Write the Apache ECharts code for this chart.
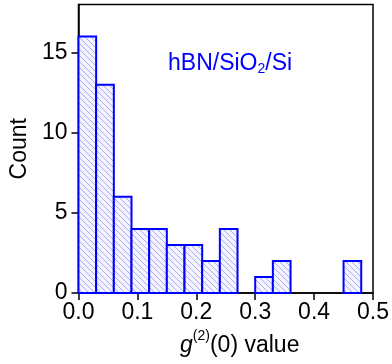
<!DOCTYPE html>
<html>
<head>
<meta charset="utf-8">
<script src="https://cdn.jsdelivr.net/npm/echarts@6/dist/echarts.min.js"></script>
<style>
html,body{margin:0;padding:0;background:#fff;}
#chart{width:392px;height:364px;}
</style>
</head>
<body>
<div id="chart"></div>
<script>
// histogram bins (g2 value) and counts
const binLo = [0.00, 0.03, 0.06, 0.09, 0.12, 0.15, 0.18, 0.21, 0.24, 0.27, 0.30, 0.33, 0.36, 0.39, 0.42, 0.45];
const binHi = [0.03, 0.06, 0.09, 0.12, 0.15, 0.18, 0.21, 0.24, 0.27, 0.30, 0.33, 0.36, 0.39, 0.42, 0.45, 0.48];
const counts = [16, 13, 6, 4, 4, 3, 3, 2, 4, 0, 1, 2, 0, 0, 0, 2];
const yTicks = [0, 5, 10, 15];

// hatch pattern
const pat = document.createElement('canvas');
pat.width = 6; pat.height = 6;
const pc = pat.getContext('2d');
pc.fillStyle = '#f4f4ff';
pc.fillRect(0, 0, 6, 6);
pc.strokeStyle = '#aaaaff';
pc.lineWidth = 1;
pc.beginPath();
pc.moveTo(-1, -1); pc.lineTo(7, 7);
pc.moveTo(-1, 5); pc.lineTo(1, 7);
pc.moveTo(5, -1); pc.lineTo(7, 1);
pc.stroke();

const data = binLo.map((lo, i) => [lo, binHi[i], counts[i]]);
const font = 'Liberation Sans, Arial, sans-serif';

const chart = echarts.init(document.getElementById('chart'));
chart.setOption({
  animation: false,
  grid: {left: 77.5, right: 17, top: 4.5, bottom: 71, show: true, borderColor: '#000', borderWidth: 1.5},
  xAxis: {
    type: 'value', min: 0, max: 0.5, interval: 0.1,
    name: '{i|g}{sup|(2)}{n|(0) value}',
    nameLocation: 'middle', nameGap: 36,
    nameTextStyle: {
      padding: [0, 0, 0, 28],
      rich: {
        i: {fontFamily: font, fontSize: 23, fontStyle: 'italic', color: '#000', lineHeight: 28, verticalAlign: 'bottom'},
        sup: {fontFamily: font, fontSize: 14, color: '#000', lineHeight: 28, verticalAlign: 'top'},
        n: {fontFamily: font, fontSize: 23, color: '#000', lineHeight: 28, verticalAlign: 'bottom'}
      }
    },
    axisLine: {lineStyle: {color: '#000', width: 1.5}},
    axisTick: {inside: false, length: 7, lineStyle: {color: '#000', width: 1.5}},
    axisLabel: {fontFamily: font, fontSize: 23, color: '#000', margin: 8, formatter: v => v.toFixed(1)},
    splitLine: {show: false}
  },
  yAxis: {
    type: 'value', min: 0, max: 18,
    name: 'Count', nameLocation: 'middle', nameGap: 41,
    nameTextStyle: {fontFamily: font, fontSize: 23, color: '#000'},
    axisLine: {show: true, lineStyle: {color: '#000', width: 1.5}},
    axisTick: {show: true, length: 7, customValues: yTicks, lineStyle: {color: '#000', width: 1.5}},
    axisLabel: {fontFamily: font, fontSize: 23, color: '#000', margin: 11, customValues: yTicks},
    splitLine: {show: false}
  },
  series: [{
    type: 'custom',
    data: data,
    renderItem: function (params, api) {
      const c = api.value(2);
      if (!c) return;
      const p0 = api.coord([api.value(0), c]);
      const p1 = api.coord([api.value(1), 0]);
      return {
        type: 'rect',
        shape: {x: p0[0], y: p0[1], width: p1[0] - p0[0], height: p1[1] - p0[1]},
        style: {fill: {image: pat, repeat: 'repeat'}, stroke: '#0000ff', lineWidth: 2}
      };
    }
  }],
  graphic: [{
    type: 'text', left: 168, top: 52,
    style: {
      text: '{a|hBN/SiO}{s|2}{a|/Si}',
      rich: {
        a: {fontFamily: font, fontSize: 23, fill: '#0000ff', lineHeight: 24, verticalAlign: 'top'},
        s: {fontFamily: font, fontSize: 14, fill: '#0000ff', lineHeight: 14, verticalAlign: 'bottom'}
      },
      lineHeight: 30
    }
  }]
});
</script>
</body>
</html>
